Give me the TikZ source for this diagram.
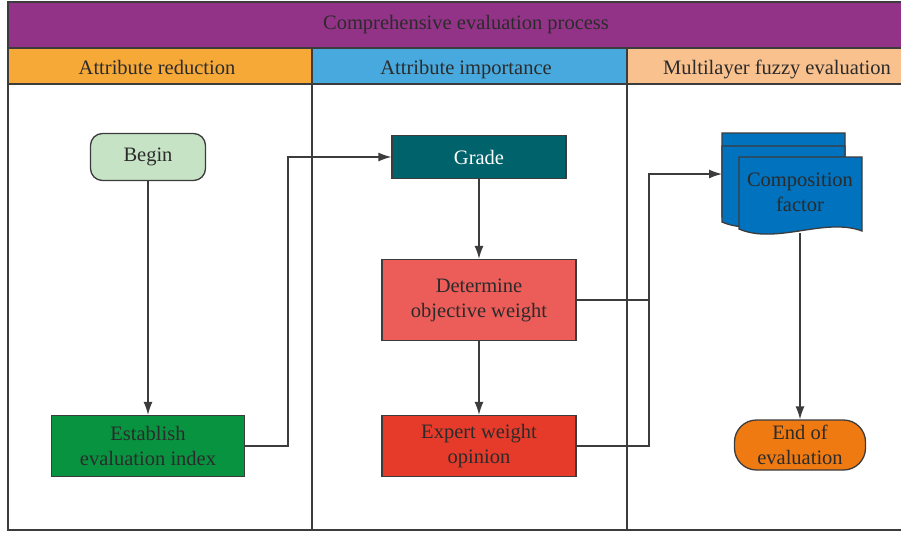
\documentclass[tikz,border=0pt]{standalone}
\usepackage{fontspec}
\setmainfont{Liberation Serif}
\usepackage{tikz}
\usetikzlibrary{arrows.meta}
\definecolor{laneline}{HTML}{3C3C3C}
\definecolor{txtcol}{HTML}{2B2B2B}
\definecolor{titlecol}{HTML}{933388}
\definecolor{reducecol}{HTML}{F7A938}
\definecolor{importcol}{HTML}{48A9DE}
\definecolor{fuzzycol}{HTML}{F9C18E}
\definecolor{begincol}{HTML}{C6E3C6}
\definecolor{indexcol}{HTML}{07933F}
\definecolor{gradecol}{HTML}{00626A}
\definecolor{objcol}{HTML}{EC5C58}
\definecolor{expertcol}{HTML}{E63B2A}
\definecolor{compcol}{HTML}{0072BE}
\definecolor{endcol}{HTML}{F07A12}
\tikzset{
  lbl/.style={font=\fontsize{20.5}{25}\selectfont, text=txtcol, align=center, inner sep=0pt},
  lanehead/.style={lbl, anchor=base},
  procbox/.style={lbl, draw=laneline, line width=1.3pt, minimum width=#1, rectangle},
  flow/.style={draw=laneline, line width=1.3pt, -{Latex[length=13pt,width=9pt]}},
  link/.style={draw=laneline, line width=1.3pt}
}
\def\docsheet[#1](#2,#3)(#4,#5){\draw[#1] (#2,#3) -- (#4,#3) -- (#4,#5+2)
  .. controls ({#4-0.3*(#4-#2)},#5-12) and ({#2+0.3*(#4-#2)},#5+16) .. (#2,#5) -- cycle;}

\begin{document}
\begin{tikzpicture}[x=1pt,y=-1pt]
			%%%%% LANES %%%%%
			\useasboundingbox (0,0) rectangle (901,533);
			\fill[white] (0,0) rectangle (901,533);
			
			\draw[fill=titlecol, draw=laneline, line width=1.5pt] (8,2) rectangle (902,48);
			\node[lanehead] (title) at (466,29) {Comprehensive evaluation process};
			
			\draw[fill=reducecol, draw=laneline, line width=1.5pt] (8,48) rectangle (312,84);
			\draw[fill=importcol, draw=laneline, line width=1.5pt] (312,48) rectangle (627,84);
			\draw[fill=fuzzycol, draw=laneline, line width=1.5pt] (627,48) rectangle (902,84);
			\node[lanehead] (lane1) at (157,74) {Attribute reduction};
			\node[lanehead] (lane2) at (466,74) {Attribute importance};
			\node[lanehead] (lane3) at (777,74) {Multilayer fuzzy evaluation};
			
			\draw[laneline, line width=1.5pt] (8,84) -- (8,530) -- (902,530);
			\draw[laneline, line width=1.5pt] (312,84) -- (312,530);
			\draw[laneline, line width=1.5pt] (627,84) -- (627,530);
			
			%%%%% NODES %%%%%
			\node[procbox=115pt, minimum height=47pt, fill=begincol, rounded corners=12pt] (begin) at (148,157) {Begin};
			\node[procbox=193pt, minimum height=61pt, fill=indexcol] (index) at (148,446) {Establish\\evaluation index};
			
			\node[procbox=174pt, minimum height=43pt, fill=gradecol] (grade) at (479,157) {\color{white}Grade};
			\node[procbox=194pt, minimum height=81pt, fill=objcol] (objective) at (479,300) {Determine\\objective weight};
			\node[procbox=194pt, minimum height=61pt, fill=expertcol] (expert) at (479,446) {Expert weight\\opinion};
			
			\docsheet[fill=compcol, draw=laneline, line width=1.3pt](722,133)(845,217)
			\docsheet[fill=compcol, draw=laneline, line width=1.3pt](722,146)(845,222)
			\docsheet[fill=compcol, draw=laneline, line width=1.3pt](739,157)(862,229)
			\node[lbl] (comp) at (800,192) {Composition\\factor};
			\coordinate (compin) at (722,174);
			\coordinate (compout) at (800,233);
			
			\node[procbox=131pt, minimum height=50pt, fill=endcol, rounded corners=22pt] (end) at (800,445) {End of\\evaluation};
			
			%%%%% CONNECTORS %%%%%
			\draw[flow] (begin) -- (index);
			\draw[flow] (index.east) -- (288,446) -- (288,157) -- (grade.west);
			\draw[flow] (grade) -- (objective);
			\draw[flow] (objective) -- (expert);
			\draw[link] (objective.east) -- (649,300);
			\draw[flow] (expert.east) -- (649,446) -- (649,174) -- (compin);
			\draw[flow] (compout) -- (end);
			
			%%%%% END %%%%%
		\end{tikzpicture}
\end{document}
